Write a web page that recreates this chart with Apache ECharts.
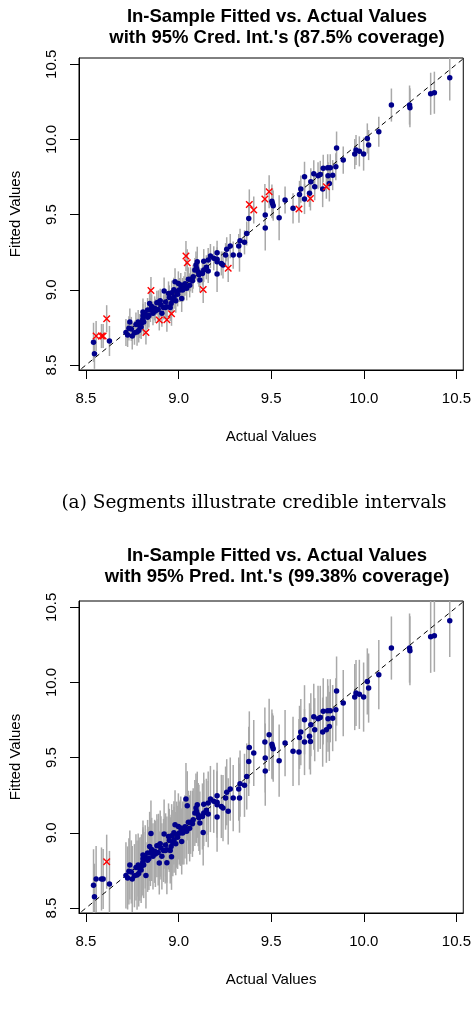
<!DOCTYPE html>
<html>
<head>
<meta charset="utf-8">
<script src="https://cdn.jsdelivr.net/npm/echarts@6/dist/echarts.min.js"></script>
<style>
  html, body { margin: 0; padding: 0; background: #fff; }
  #main { width: 474px; height: 1012px; }
</style>
</head>
<body>
<div id="main"></div>
<script>
// values, sorted by actual value
var actualVals = [
  8.541, 8.546, 8.555, 8.584, 8.593, 8.612, 8.627, 8.716, 8.725, 8.732,
  8.737, 8.745, 8.750, 8.762, 8.770, 8.776, 8.782, 8.785, 8.791, 8.798,
  8.800, 8.807, 8.808, 8.808, 8.812, 8.820, 8.824, 8.833, 8.833, 8.840,
  8.844, 8.848, 8.851, 8.855, 8.862, 8.871, 8.875, 8.883, 8.890, 8.892,
  8.896, 8.901, 8.905, 8.910, 8.919, 8.922, 8.928, 8.930, 8.937, 8.937,
  8.946, 8.950, 8.955, 8.960, 8.962, 8.963, 8.969, 8.975, 8.976, 8.981,
  8.985, 8.990, 8.995, 8.999, 9.004, 9.010, 9.012, 9.017, 9.022, 9.029,
  9.035, 9.040, 9.044, 9.047, 9.053, 9.060, 9.065, 9.075, 9.079, 9.088,
  9.094, 9.097, 9.101, 9.106, 9.110, 9.115, 9.129, 9.133, 9.136, 9.136,
  9.150, 9.160, 9.160, 9.172, 9.190, 9.208, 9.208, 9.208, 9.208, 9.231,
  9.240, 9.254, 9.260, 9.268, 9.279, 9.295, 9.325, 9.329, 9.332, 9.356,
  9.368, 9.379, 9.382, 9.406, 9.466, 9.468, 9.468, 9.489, 9.504, 9.507,
  9.511, 9.543, 9.575, 9.618, 9.650, 9.653, 9.660, 9.680, 9.680, 9.707,
  9.712, 9.714, 9.730, 9.735, 9.753, 9.765, 9.778, 9.781, 9.798, 9.805,
  9.807, 9.814, 9.819, 9.832, 9.849, 9.853, 9.889, 9.951, 9.958, 9.976,
  9.999, 10.019, 10.026, 10.081, 10.149, 10.247, 10.249, 10.361, 10.381, 10.464
];
var fittedVals = [
  8.651, 8.575, 8.693, 8.693, 8.693, 8.808, 8.660, 8.717, 8.700, 8.744,
  8.786, 8.740, 8.693, 8.715, 8.770, 8.719, 8.786, 8.730, 8.759, 8.753,
  8.780, 8.804, 8.852, 8.828, 8.786, 8.840, 8.717, 8.817, 8.866, 8.830,
  8.910, 8.866, 8.996, 8.890, 8.844, 8.877, 8.860, 8.914, 8.870, 8.917,
  8.800, 8.928, 8.900, 8.844, 8.883, 8.992, 8.883, 8.920, 8.888, 8.801,
  8.976, 8.950, 8.883, 8.910, 8.841, 8.981, 8.932, 9.000, 8.954, 9.054,
  8.928, 8.988, 8.970, 9.043, 8.999, 9.000, 9.032, 8.943, 8.999, 9.010,
  9.040, 9.225, 9.010, 9.180, 9.070, 9.030, 9.070, 9.060, 9.087, 9.132,
  9.165, 9.143, 9.187, 9.121, 9.100, 9.065, 9.109, 9.003, 9.191, 9.132,
  9.150, 9.125, 9.198, 9.225, 9.210, 9.247, 9.203, 9.187, 9.105, 9.176,
  9.165, 9.231, 9.270, 9.143, 9.291, 9.231, 9.291, 9.231, 9.327, 9.316,
  9.375, 9.475, 9.568, 9.531, 9.604, 9.498, 9.411, 9.652, 9.590, 9.575,
  9.560, 9.480, 9.597, 9.542, 9.537, 9.635, 9.670, 9.604, 9.752, 9.642,
  9.608, 9.719, 9.772, 9.686, 9.759, 9.768, 9.670, 9.808, 9.686, 9.812,
  9.759, 9.708, 9.812, 9.763, 9.819, 9.943, 9.863, 9.903, 9.930, 9.921,
  9.903, 10.007, 9.963, 10.052, 10.229, 10.229, 10.211, 10.304, 10.311, 10.410
];
// half widths of the 95% credible intervals
var credHalf = [
  0.13, 0.10, 0.10, 0.08, 0.08, 0.09, 0.10, 0.09, 0.08, 0.08,
  0.09, 0.08, 0.09, 0.08, 0.08, 0.09, 0.08, 0.08, 0.08, 0.08,
  0.08, 0.08, 0.09, 0.08, 0.08, 0.08, 0.08, 0.08, 0.08, 0.08,
  0.09, 0.08, 0.09, 0.08, 0.08, 0.08, 0.08, 0.08, 0.08, 0.08,
  0.07, 0.08, 0.08, 0.09, 0.08, 0.09, 0.08, 0.08, 0.08, 0.08,
  0.08, 0.08, 0.09, 0.08, 0.08, 0.08, 0.08, 0.08, 0.08, 0.09,
  0.08, 0.08, 0.08, 0.08, 0.08, 0.08, 0.08, 0.09, 0.08, 0.08,
  0.08, 0.10, 0.08, 0.09, 0.08, 0.08, 0.08, 0.08, 0.08, 0.08,
  0.09, 0.08, 0.10, 0.08, 0.08, 0.08, 0.08, 0.09, 0.08, 0.08,
  0.08, 0.08, 0.08, 0.08, 0.08, 0.08, 0.08, 0.08, 0.12, 0.08,
  0.09, 0.08, 0.08, 0.09, 0.08, 0.09, 0.08, 0.11, 0.08, 0.08,
  0.08, 0.11, 0.10, 0.09, 0.10, 0.10, 0.15, 0.11, 0.11, 0.10,
  0.10, 0.15, 0.09, 0.10, 0.09, 0.09, 0.09, 0.10, 0.10, 0.09,
  0.08, 0.09, 0.09, 0.09, 0.09, 0.09, 0.12, 0.09, 0.08, 0.09,
  0.09, 0.12, 0.09, 0.10, 0.09, 0.11, 0.09, 0.10, 0.10, 0.10,
  0.11, 0.10, 0.10, 0.10, 0.11, 0.13, 0.13, 0.14, 0.14, 0.15
];
// half widths of the 95% prediction intervals
var predHalf = [
  0.24, 0.22, 0.22, 0.21, 0.20, 0.18, 0.22, 0.22, 0.21, 0.22,
  0.23, 0.21, 0.22, 0.21, 0.22, 0.23, 0.21, 0.22, 0.21, 0.22,
  0.21, 0.22, 0.23, 0.21, 0.22, 0.21, 0.22, 0.21, 0.22, 0.21,
  0.23, 0.22, 0.22, 0.21, 0.22, 0.21, 0.22, 0.21, 0.22, 0.21,
  0.21, 0.22, 0.21, 0.22, 0.21, 0.23, 0.22, 0.21, 0.22, 0.21,
  0.22, 0.21, 0.22, 0.21, 0.22, 0.21, 0.22, 0.21, 0.22, 0.23,
  0.21, 0.22, 0.21, 0.22, 0.21, 0.22, 0.21, 0.22, 0.21, 0.22,
  0.21, 0.24, 0.22, 0.23, 0.21, 0.22, 0.21, 0.22, 0.21, 0.22,
  0.23, 0.21, 0.22, 0.21, 0.22, 0.21, 0.22, 0.22, 0.21, 0.22,
  0.21, 0.22, 0.21, 0.22, 0.21, 0.22, 0.21, 0.22, 0.23, 0.21,
  0.22, 0.21, 0.22, 0.22, 0.21, 0.22, 0.21, 0.23, 0.22, 0.21,
  0.22, 0.23, 0.24, 0.22, 0.23, 0.23, 0.23, 0.24, 0.23, 0.22,
  0.22, 0.24, 0.22, 0.23, 0.22, 0.21, 0.22, 0.22, 0.23, 0.22,
  0.22, 0.21, 0.22, 0.21, 0.22, 0.21, 0.23, 0.22, 0.22, 0.21,
  0.22, 0.23, 0.21, 0.22, 0.21, 0.23, 0.22, 0.22, 0.22, 0.23,
  0.23, 0.22, 0.23, 0.23, 0.21, 0.23, 0.23, 0.24, 0.24, 0.24
];
var tickVals = [8.5, 9.0, 9.5, 10.0, 10.5];
var titles = [
  "In-Sample Fitted vs. Actual Values\nwith 95% Cred. Int.'s (87.5% coverage)",
  "In-Sample Fitted vs. Actual Values\nwith 95% Pred. Int.'s (99.38% coverage)"
];
var caption = '(a) Segments illustrate credible intervals';

var myChart = echarts.init(document.getElementById('main'), null, { renderer: 'canvas' });

var xRange = [8.4626, 10.537];
var yRange = [8.467, 10.542];
var gridTops = [58, 601];
var titleTops = [1, 540];

// split points into covered / not covered for one kind of interval
function buildSets(half) {
    var segs = [], inside = [], outside = [];
    for (var i = 0; i < actualVals.length; i++) {
        var lo = fittedVals[i] - half[i];
        var hi = fittedVals[i] + half[i];
        segs.push([actualVals[i], lo, hi]);
        if (actualVals[i] >= lo && actualVals[i] <= hi) {
            inside.push([actualVals[i], fittedVals[i]]);
        } else {
            outside.push([actualVals[i], fittedVals[i]]);
        }
    }
    return { segs: segs, inside: inside, outside: outside };
}

function segRender(params, api) {
    var x = api.value(0);
    var p1 = api.coord([x, api.value(2)]);
    var p2 = api.coord([x, api.value(1)]);
    var cs = params.coordSys;
    var top = Math.max(p1[1], cs.y);
    var bot = Math.min(p2[1], cs.y + cs.height);
    if (bot <= top) return;
    return {
        type: 'line',
        shape: { x1: p1[0], y1: top, x2: p1[0], y2: bot },
        style: { stroke: '#a9a9a9', lineWidth: 1.5 }
    };
}

var grids = [], xAxes = [], yAxes = [], series = [], titleList = [];
var sets = [buildSets(credHalf), buildSets(predHalf)];

for (var k = 0; k < 2; k++) {
    grids.push({
        left: 78, top: gridTops[k], width: 388, height: 312,
        show: true, borderColor: '#000', borderWidth: 1, backgroundColor: '#fff'
    });
    titleList.push({
        text: titles[k], left: 272, top: titleTops[k], textAlign: 'center',
        textStyle: { fontFamily: 'Liberation Sans', fontWeight: 'bold', fontSize: 18.5, lineHeight: 21, color: '#000' }
    });
    xAxes.push({
        gridIndex: k, type: 'value', min: xRange[0], max: xRange[1],
        axisLine: { show: true, onZero: false, lineStyle: { color: '#000', width: 1 } },
        axisTick: { show: true, length: 9, customValues: tickVals, lineStyle: { color: '#000', width: 1 } },
        axisLabel: {
            customValues: tickVals, margin: 21, fontSize: 15, color: '#000', fontFamily: 'Liberation Sans',
            formatter: function (v) { return v.toFixed(1); }
        },
        splitLine: { show: false },
        name: 'Actual Values', nameLocation: 'middle', nameGap: 59,
        nameTextStyle: { fontSize: 15, color: '#000', fontFamily: 'Liberation Sans', verticalAlign: 'top' }
    });
    yAxes.push({
        gridIndex: k, type: 'value', min: yRange[0], max: yRange[1],
        axisLine: { show: true, onZero: false, lineStyle: { color: '#000', width: 1 } },
        axisTick: { show: true, length: 9, customValues: tickVals, lineStyle: { color: '#000', width: 1 } },
        axisLabel: {
            customValues: tickVals, margin: 20, rotate: 90, fontSize: 15, color: '#000', fontFamily: 'Liberation Sans',
            formatter: function (v) { return v.toFixed(1); }
        },
        splitLine: { show: false },
        name: 'Fitted Values', nameLocation: 'middle', nameGap: 56, nameRotate: 90,
        nameTextStyle: { fontSize: 15, color: '#000', fontFamily: 'Liberation Sans' }
    });
    series.push({
        type: 'custom', xAxisIndex: k, yAxisIndex: k,
        renderItem: segRender, data: sets[k].segs, silent: true, z: 2
    });
    series.push({
        type: 'line', xAxisIndex: k, yAxisIndex: k, clip: true, silent: true,
        data: [[8.4, 8.4], [10.6, 10.6]], symbol: 'none', z: 3,
        lineStyle: { color: '#000', width: 1, type: [5, 4] }
    });
    series.push({
        type: 'scatter', xAxisIndex: k, yAxisIndex: k, data: sets[k].inside,
        symbol: 'circle', symbolSize: 5.5, itemStyle: { color: '#00008b', opacity: 1 }, z: 4
    });
    series.push({
        type: 'scatter', xAxisIndex: k, yAxisIndex: k, data: sets[k].outside,
        symbol: 'path://M0,0L10,10M10,0L0,10', symbolSize: 6.5,
        itemStyle: { color: 'none', borderColor: '#ff0000', borderWidth: 1.4, opacity: 1 }, z: 5
    });
}

var option = {
    animation: false,
    backgroundColor: '#fff',
    title: titleList,
    grid: grids,
    xAxis: xAxes,
    yAxis: yAxes,
    series: series,
    graphic: [{
        type: 'text', x: 254, y: 503,
        style: {
            text: caption, textAlign: 'center', textVerticalAlign: 'middle',
            font: '18.5px "DejaVu Serif"', fill: '#000'
        }
    }]
};
myChart.setOption(option);
</script>
</body>
</html>
